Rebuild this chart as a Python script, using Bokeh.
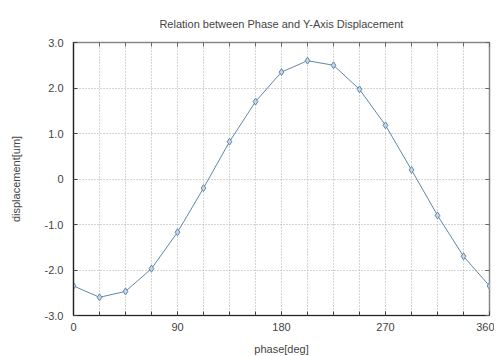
from bokeh.plotting import figure
from bokeh.models import FixedTicker, LinearAxis, Range1d, CustomJSTickFormatter
from bokeh.embed import file_html
from bokeh.resources import INLINE

phase = [0, 22.5, 45, 67.5, 90, 112.5, 135, 157.5, 180, 202.5, 225, 247.5, 270, 292.5, 315, 337.5, 360]
displacement = [-2.35, -2.6, -2.47, -1.97, -1.17, -0.2, 0.82, 1.7, 2.35, 2.6, 2.5, 1.97, 1.18, 0.2, -0.8, -1.7, -2.35]
x_major = [0, 90, 180, 270, 360]
x_minor = [22.5 * i for i in range(17)]
y_ticks = [-3, -2, -1, 0, 1, 2, 3]
y_labels = {-3: "-3.0", -2: "-2.0", -1: "-1.0", 0: "0", 1: "1.0", 2: "2.0", 3: "3.0"}

FONT = "Liberation Sans"
TXT = "#444444"

p = figure(frame_width=416, frame_height=273, output_backend="svg", toolbar_location=None,
           x_range=Range1d(0, 360), y_range=Range1d(-3, 3),
           min_border_left=73, min_border_right=5, min_border_top=42, min_border_bottom=41)
p.title.text = "Relation between Phase and Y-Axis Displacement"
p.title.align = "center"
p.title.text_font = FONT
p.title.text_font_size = "11px"
p.title.text_font_style = "normal"
p.title.text_color = TXT
p.title.offset = 0
p.title.standoff = 25

p.outline_line_color = "#888888"
p.outline_line_width = 1.5

p.xaxis.ticker = FixedTicker(ticks=x_major, minor_ticks=x_minor)
p.yaxis.ticker = FixedTicker(ticks=y_ticks)
p.yaxis.major_label_overrides = y_labels

for ax in (p.xaxis[0], p.yaxis[0]):
    ax.axis_line_color = "#222222"
    ax.axis_line_width = 1.2
    ax.major_tick_in = 4
    ax.major_tick_out = 0
    ax.minor_tick_in = 4
    ax.minor_tick_out = 0
    ax.major_tick_line_color = "#444444"
    ax.minor_tick_line_color = "#444444"
    ax.major_label_text_font = FONT
    ax.major_label_text_font_size = "11px"
    ax.major_label_text_color = TXT
    ax.axis_label_text_font = FONT
    ax.axis_label_text_font_size = "11px"
    ax.axis_label_text_font_style = "normal"
    ax.axis_label_text_color = TXT
p.xaxis.axis_label = "phase[deg]"
p.yaxis.axis_label = "displacement[um]"
p.xaxis.major_label_standoff = 7
p.xaxis.axis_label_standoff = 9
p.yaxis.major_label_standoff = 10
p.yaxis.axis_label_standoff = 20
p.yaxis.minor_tick_line_color = None

blank = CustomJSTickFormatter(code="return '';")
top = LinearAxis(ticker=FixedTicker(ticks=x_major, minor_ticks=x_minor), formatter=blank,
                 major_tick_in=4, major_tick_out=0, minor_tick_in=4, minor_tick_out=0,
                 major_label_standoff=0,
                 axis_line_color=None, major_tick_line_color="#666666", minor_tick_line_color="#666666")
p.add_layout(top, "above")
right = LinearAxis(ticker=FixedTicker(ticks=y_ticks), formatter=blank,
                   major_tick_in=4, major_tick_out=0, minor_tick_line_color=None,
                   major_label_standoff=0,
                   axis_line_color=None, major_tick_line_color="#666666")
p.add_layout(right, "right")

p.xgrid.ticker = FixedTicker(ticks=x_minor)
p.xgrid.grid_line_color = "#aaaaaa"
p.xgrid.grid_line_dash = "1 2"
p.ygrid.grid_line_color = "#aaaaaa"
p.ygrid.grid_line_dash = "1 2"

col = "#5f87ab"
p.line(phase, displacement, line_color=col, line_width=1)
p.scatter(phase, displacement, marker="diamond", size=7, line_color=col, fill_color="#c8d6e4", line_width=1)

open("out.html", "w").write(file_html(p, INLINE))
